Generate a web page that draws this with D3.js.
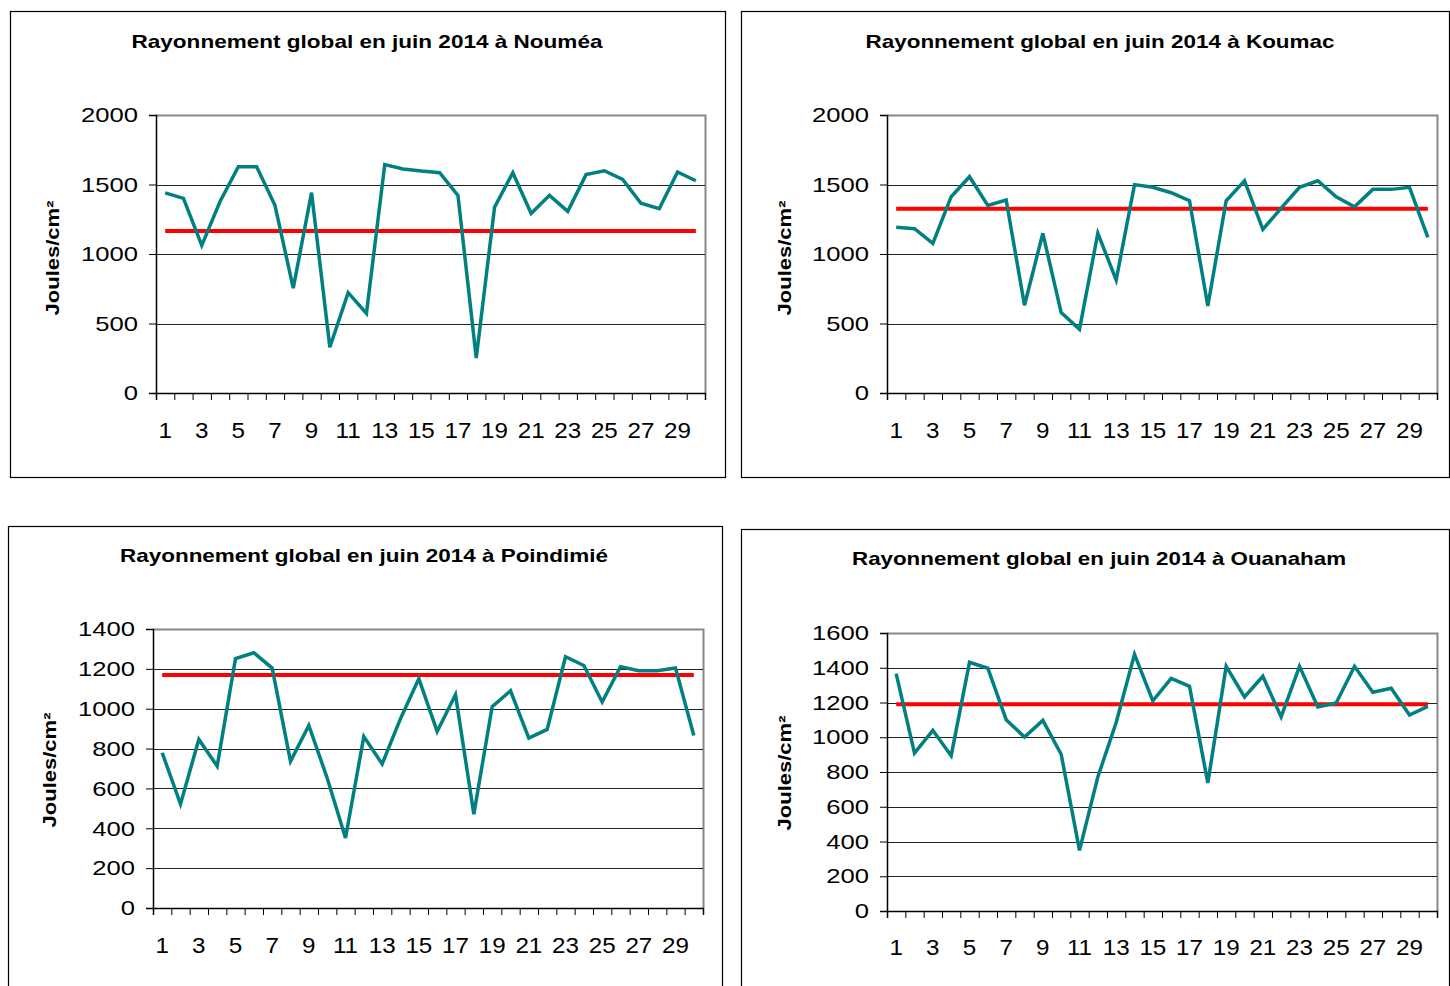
<!DOCTYPE html>
<html>
<head>
<meta charset="utf-8">
<script src="https://cdn.jsdelivr.net/npm/d3@7"></script>
<style>
  body { margin: 0; background: #fff; }
  svg { display: block; font-family: "Liberation Sans", Arial, sans-serif; }
</style>
</head>
<body>
<svg id="chart" width="1450" height="986"></svg>
<script>
// days of June 2014
const days = d3.range(1, 31);
const dayLabels = days.filter(d => d % 2 === 1);

// daily global radiation (J/cm²)
const noumea = [1440, 1400, 1062, 1378, 1628, 1628, 1350, 755, 1441, 329,
  722, 573, 1643, 1612, 1597, 1585, 1422, 252, 1336, 1585,
  1292, 1422, 1307, 1571, 1599, 1537, 1365, 1326, 1590, 1527];
const koumac = [1192, 1182, 1077, 1412, 1556, 1350, 1388, 631, 1149, 578,
  458, 1149, 813, 1499, 1480, 1441, 1383, 626, 1383, 1527,
  1177, 1330, 1480, 1527, 1412, 1340, 1465, 1465, 1480, 1120];
const poindimie = [779, 522, 846, 712, 1251, 1281, 1204, 736, 916, 652,
  351, 860, 723, 950, 1151, 886, 1070, 471, 1010, 1090,
  853, 896, 1261, 1217, 1034, 1211, 1191, 1191, 1204, 866];
const ouanaham = [1366, 909, 1040, 894, 1431, 1397, 1101, 1001, 1097, 902,
  349, 771, 1085, 1477, 1209, 1339, 1293, 737, 1408, 1232,
  1351, 1117, 1408, 1174, 1197, 1408, 1259, 1282, 1128, 1178];

// monthly means (red line)
const means = [1165, 1326, 1169, 1190];

const stations = ["Nouméa", "Koumac", "Poindimié", "Ouanaham"];
const yTicks = [
  [0, 500, 1000, 1500, 2000],
  [0, 500, 1000, 1500, 2000],
  [0, 200, 400, 600, 800, 1000, 1200, 1400],
  [0, 200, 400, 600, 800, 1000, 1200, 1400, 1600]
];

const panels = [
  { box: [10, 11, 725, 477], plot: [156, 115, 705, 393], title: [367, 48, 471], ylab: [53, 258], xlabY: 438, values: noumea },
  { box: [741, 11, 1449, 477], plot: [887, 115, 1437, 393], title: [1100, 48, 469], ylab: [785, 258], xlabY: 438, values: koumac },
  { box: [8, 526, 722, 990], plot: [153, 629, 703, 908], title: [364, 562, 488], ylab: [50, 770], xlabY: 953, values: poindimie },
  { box: [741, 529, 1449, 990], plot: [887, 633, 1437, 911], title: [1099, 565, 494], ylab: [785, 773], xlabY: 955, values: ouanaham }
];

// the source picture is a bit wider than tall, so stretch text horizontally
function stretch(sel, k) {
  sel.each(function () {
    const w = this.getComputedTextLength();
    d3.select(this).attr("textLength", w * k).attr("lengthAdjust", "spacingAndGlyphs");
  });
}

const svg = d3.select("#chart");

panels.forEach((p, i) => {
  const g = svg.append("g");
  const [l, t, r, b] = p.plot;
  const ticks = yTicks[i];

  // outer frame
  g.append("rect")
    .attr("x", p.box[0] + 0.5).attr("y", p.box[1] + 0.5)
    .attr("width", p.box[2] - p.box[0]).attr("height", p.box[3] - p.box[1])
    .attr("fill", "#fff").attr("stroke", "#000").attr("stroke-width", 1.2);

  // title
  g.append("text")
    .attr("x", p.title[0]).attr("y", p.title[1])
    .attr("text-anchor", "middle")
    .attr("font-weight", "bold").attr("font-size", 19)
    .attr("textLength", p.title[2]).attr("lengthAdjust", "spacingAndGlyphs")
    .text(`Rayonnement global en juin 2014 à ${stations[i]}`);

  const x = d3.scaleBand().domain(days).range([l, r]);
  const xb = d3.scaleLinear().domain([0, 30]).range([l, r]);
  const y = d3.scaleLinear().domain([0, d3.max(ticks)]).range([b, t]);

  // plot area border (top / right in grey)
  g.append("path")
    .attr("d", `M${l},${t + 0.5}H${r + 0.5}V${b}`)
    .attr("fill", "none").attr("stroke", "#888").attr("stroke-width", 2);

  // horizontal gridlines
  g.append("g").selectAll("line")
    .data(ticks.filter(v => v > 0 && v < d3.max(ticks)))
    .join("line")
    .attr("x1", l).attr("x2", r)
    .attr("y1", d => Math.round(y(d)) + 0.5).attr("y2", d => Math.round(y(d)) + 0.5)
    .attr("stroke", "#222").attr("stroke-width", 1);

  // y axis
  const ya = g.append("g").attr("transform", `translate(${l},0)`)
    .call(d3.axisLeft(y).tickValues(ticks).tickSize(7).tickPadding(11).tickFormat(d3.format("d")));
  ya.select(".domain").attr("stroke", "#000").attr("stroke-width", 1.5);
  ya.selectAll(".tick line").attr("stroke", "#000");
  ya.selectAll("text").attr("font-size", 21).attr("fill", "#000")
    .attr("font-family", "'Liberation Sans', Arial, sans-serif")
    .call(stretch, 1.22);

  // x axis: ticks at category boundaries
  const xa = g.append("g").attr("transform", `translate(0,${b})`)
    .call(d3.axisBottom(xb).tickValues(d3.range(0, 31)).tickSize(7).tickFormat(""));
  xa.select(".domain").attr("stroke", "#000").attr("stroke-width", 1.5);
  xa.selectAll(".tick line").attr("stroke", "#000");

  // x labels: odd days at category centres
  const xl = g.append("g").attr("transform", `translate(0,${p.xlabY})`)
    .call(d3.axisBottom(x).tickValues(dayLabels).tickSize(0).tickPadding(0));
  xl.select(".domain").remove();
  xl.selectAll("text").attr("font-size", 22).attr("fill", "#000").attr("dy", 0)
    .attr("font-family", "'Liberation Sans', Arial, sans-serif")
    .call(stretch, 1.1);

  // y axis title
  g.append("text")
    .attr("transform", `translate(${p.ylab[0]},${p.ylab[1]}) rotate(-90)`)
    .attr("text-anchor", "middle").attr("dy", "0.35em")
    .attr("font-weight", "bold").attr("font-size", 18)
    .attr("textLength", 115).attr("lengthAdjust", "spacingAndGlyphs")
    .text("Joules/cm²");

  const cx = d => x(d) + x.bandwidth() / 2;

  // monthly mean
  g.append("path")
    .datum(days)
    .attr("d", d3.line().x(cx).y(() => y(means[i])))
    .attr("fill", "none").attr("stroke", "#ff0000").attr("stroke-width", 4);

  // daily values
  g.append("path")
    .datum(p.values)
    .attr("d", d3.line().x((v, k) => cx(days[k])).y(v => y(v)))
    .attr("fill", "none").attr("stroke", "#008080").attr("stroke-width", 3.5)
    .attr("stroke-linejoin", "miter");
});
</script>
</body>
</html>
